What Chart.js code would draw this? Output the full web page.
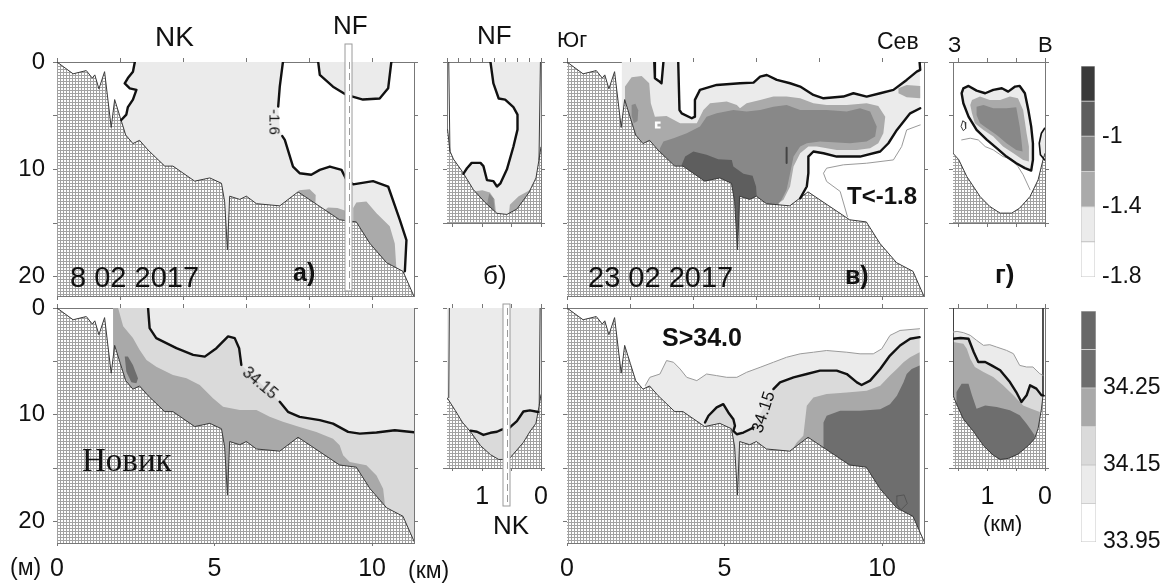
<!DOCTYPE html>
<html lang="ru">
<head>
<meta charset="utf-8">
<title>Разрезы температуры и солёности</title>
<script src="https://cdn.jsdelivr.net/npm/chart.js@4.4.1/dist/chart.umd.min.js"></script>
<style>
  html, body { margin: 0; padding: 0; background: #fff; }
  #page { position: relative; width: 1165px; height: 583px; overflow: hidden;
          font-family: "Liberation Sans", Arial, sans-serif; color: #111; }
  #plots canvas { position: absolute; }
  .lbl { position: absolute; white-space: nowrap; line-height: 1; z-index: 2; }
  .rot { position: absolute; white-space: nowrap; line-height: 1; z-index: 2; transform-origin: center; }
  .b { font-weight: bold; }
</style>
</head>
<body>
<div id="page">
  <div id="plots"></div>

  <div class="lbl" style="left:155px;top:23px;font-size:28px">NK</div>
  <div class="lbl" style="left:333px;top:12px;font-size:26px">NF</div>
  <div class="lbl" style="left:477px;top:22px;font-size:26px">NF</div>
  <div class="lbl" style="left:557px;top:29px;font-size:22px">Юг</div>
  <div class="lbl" style="left:877px;top:30px;font-size:23px">Сев</div>
  <div class="lbl" style="left:948px;top:34px;font-size:22px">З</div>
  <div class="lbl" style="left:1038px;top:34px;font-size:22px">В</div>

  <div class="lbl" style="left:70px;top:263px;font-size:29px">8 02 2017</div>
  <div class="lbl b" style="left:293px;top:260px;font-size:25px">а)</div>
  <div class="lbl" style="left:483px;top:262px;font-size:26px">б)</div>
  <div class="lbl" style="left:588px;top:263px;font-size:29px">23 02 2017</div>
  <div class="lbl b" style="left:845px;top:263px;font-size:25px">в)</div>
  <div class="lbl b" style="left:995px;top:261px;font-size:26px">г)</div>
  <div class="lbl b" style="left:847px;top:184px;font-size:24px">T&lt;-1.8</div>
  <div class="rot" style="left:275px;top:122px;font-size:15px;transform:translate(-50%,-50%) rotate(90deg)">-1.6</div>

  <div class="lbl" style="left:82px;top:444px;font-size:33px;font-family:'Liberation Serif','Times New Roman',serif">Новик</div>
  <div class="rot" style="left:260px;top:383px;font-size:16px;transform:translate(-50%,-50%) rotate(40deg)">34.15</div>
  <div class="lbl b" style="left:662px;top:325px;font-size:25px">S&gt;34.0</div>
  <div class="rot" style="left:763px;top:412px;font-size:17px;transform:translate(-50%,-50%) rotate(-72deg)">34.15</div>
  <div class="lbl" style="left:493px;top:512px;font-size:26px">NK</div>
  <div class="lbl" style="left:10px;top:556px;font-size:23px">(м)</div>
  <div class="lbl" style="left:408px;top:559px;font-size:23px">(км)</div>
  <div class="lbl" style="left:983px;top:513px;font-size:22px">(км)</div>
</div>

<script>
const FONT = '"Liberation Sans", Arial, sans-serif';

// ---------- data: [distance km, depth m] ----------
const DEPTH_T = 21.8, DEPTH_S = 22, DEPTH_CROSS = 15;
const SECTION_KM = 11.33, CROSS_KM = 1.6;

// temperature / salinity class colours (lowest class first)
const T_COLORS = ['#ffffff', '#ebebeb', '#aaaaaa', '#888888', '#5e5e5e', '#3a3a3a'];
const S_COLORS = ['#ffffff', '#ebebeb', '#dadada', '#a9a9a9', '#6e6e6e', '#686868'];
const T_BAR_LABELS = ['-1.8', '', '-1.4', '', '-1', '', ''];
const S_BAR_LABELS = ['33.95', '', '34.15', '', '34.25', '', ''];

const DEPTH_LABELS = [0, 10, 20];
const KM_LABELS = [0, 5, 10];
const CROSS_LABELS = [0, 1];

// bottom relief along the main section
const bottomMain = [[0,0],[0.51,1.1],[0.93,0.8],[1.12,1.5],[1.2,1.2],[1.33,2.5],[1.51,0.9],[1.72,6.1],[1.83,3.5],
  [2.01,5.2],[2.18,6.8],[2.41,7.6],[2.62,7.3],[2.89,8.2],[3.42,9.7],[3.68,9.7],[4.37,11.1],[4.85,10.8],[5.22,11.3],
  [5.32,13.0],[5.41,17.5],[5.48,12.5],[5.8,12.8],[6.01,12.5],[6.33,13.2],[7.07,13.4],[7.65,12.1],[8.97,14.7],
  [9.5,14.9],[9.93,16.9],[10.46,18.7],[10.98,19.5],[11.4,22.3]];

// a) 8 Feb, temperature
const aWarmLeft = [[2.47,0],[2.41,0.9],[2.25,1.5],[2.15,2.0],[2.31,2.45],[2.52,2.6],[2.41,3.5],[2.25,4.2],[2.2,4.9],[2.04,5.4]];
const aWarmRight = [[7.17,0],[7.07,2.3],[7.02,4.15],[7.07,6.3],[7.23,7.26],[7.49,9.74],[7.7,10.36],[8.07,10.5],[8.34,10.05],
  [8.66,9.74],[9.03,10.05],[9.19,11.0],[9.4,11.4],[10.03,11.1],[10.51,11.6],[10.88,14.7],[11.09,16.6],[11.04,19.5]];
const aWarmCap = [[8.29,0],[8.34,1.2],[8.76,2.3],[9.19,3.07],[9.71,3.5],[10.24,3.4],[10.51,2.45],[10.61,0]];
const aMid1 = [[7.65,12.1],[7.68,11.95],[8.02,11.85],[8.21,12.4],[8.2,13.4],[7.65,12.6]];
const aMid2 = [[8.5,13.8],[8.6,13.55],[8.9,13.6],[9.2,13.9],[9.2,15.2],[8.5,14.6]];
const aMid3 = [[9.4,13.6],[9.5,13.1],[9.82,13.0],[10.14,14.1],[10.56,15.3],[10.72,16.9],[10.77,19.2],[10.6,20.2],[9.4,16]];

// б) cross-section at NF, temperature
const bedCrossT = [[1.7,6.3],[1.59,6.3],[1.55,8.3],[1.49,9.05],[1.34,10.2],[1.15,11.9],[0.95,13.1],[0.75,14.1],[0.58,14.2],
  [0.41,13.7],[0.21,12.2],[0.085,10.8],[0.034,9.1],[0,7.9],[-0.1,7.9]];
const bWallsT = [[[1.57,0],[1.55,8.3]], [[0.01,0],[0.034,9.1]]];
const bIso = [[0.86,0],[0.81,2.0],[0.72,3.4],[0.61,3.5],[0.47,4.2],[0.40,4.9],[0.40,6.3],[0.47,7.9],[0.58,10.0],[0.69,11.3],
  [0.75,11.6],[0.81,11.1],[0.92,11.0],[0.98,9.7],[1.03,9.4],[1.18,9.4],[1.26,9.9],[1.32,10.4]];
const bMidL = [[1.16,12.1],[1.0,11.95],[0.87,12.15],[0.79,12.8],[0.76,14.4],[1.0,14.4]];
const bDarkL = [[0.88,12.25],[0.81,12.7],[0.78,14.3],[0.92,13.3]];
const bMidR = [[0.55,14.4],[0.53,13.3],[0.38,12.5],[0.24,12.1],[0.18,11.9],[0.12,12.5],[0.3,14.4]];

// в) 23 Feb, temperature
const vCover = [[1.74,0],[11.2,0],[11.2,25],[1.74,25]];
const vTopIso = [[3.53,0],[3.57,4.47],[3.64,4.78],[3.96,5.24],[4.06,5.09],[4.06,3.53],[4.22,2.6],[4.75,2.14],[5.49,1.98],
  [5.92,1.92],[6.13,1.36],[6.34,1.21],[6.66,1.67],[7.08,1.98],[7.4,2.29],[7.82,3.07],[8.14,3.38],[8.77,3.22],[9.09,2.91],
  [9.51,3.22],[9.94,2.91],[10.36,2.6],[10.78,1.67],[11.1,0.9],[11.21,0.74],[11.19,0]];
const vFinger = [[2.77,0],[2.79,1.52],[2.9,1.74],[3.0,1.98],[3.06,0]];
const vColdIso = [[11.21,4.31],[10.89,4.78],[10.47,6.33],[10.2,7.57],[9.94,8.34],[9.3,8.81],[8.56,8.81],[8.14,8.5],
  [7.82,8.34],[7.66,8.81],[7.66,10.36],[7.61,11.6],[7.4,12.7]];
const vFrostIso = [[11.21,5.86],[10.78,6.33],[10.62,7.88],[10.36,9.12],[9.51,9.43],[8.77,9.58],[8.24,9.89],[8.14,10.36],
  [8.24,11.13],[8.67,12.06],[8.9,14.4]];
const vMid = [[1.84,2.29],[2.05,1.43],[2.37,1.3],[2.61,1.98],[2.66,3.84],[2.79,5.09],[3.16,5.02],[3.59,5.71],[4.12,5.71],
  [4.33,4.47],[4.54,3.84],[5.07,3.69],[5.39,4.0],[5.49,4.31],[5.7,3.84],[6.13,3.53],[6.55,3.22],[6.97,3.22],[7.4,3.38],
  [7.82,3.84],[8.24,4.0],[8.88,4.0],[9.51,3.84],[9.88,4.1],[10.1,5.09],[10.04,6.64],[9.88,7.57],[9.62,8.03],[9.2,8.19],
  [8.56,8.2],[7.93,7.88],[7.66,7.88],[7.4,8.5],[7.19,9.74],[7.08,11.6],[6.87,12.84],[6.71,13.15],[6.71,25],[1.84,25]];
const vDark = [[2.95,8.03],[3.06,7.41],[3.38,7.1],[3.8,6.64],[4.22,6.02],[4.43,5.09],[4.75,4.78],[5.28,4.47],[5.7,4.62],
  [6.13,4.47],[6.55,4.16],[6.97,4.0],[7.4,4.47],[7.82,4.47],[8.24,4.47],[8.88,4.62],[9.3,4.31],[9.62,4.62],[9.83,6.02],
  [9.78,6.95],[9.51,7.41],[8.98,7.57],[8.03,7.41],[7.61,7.57],[7.4,7.88],[7.19,8.81],[7.08,10.36],[6.97,11.9],[6.81,12.84],
  [6.71,13.2],[6.71,25],[2.95,25]];
const vDarkest = [[3.64,9.58],[3.75,8.81],[4.01,8.34],[4.43,8.65],[4.8,9.05],[5.23,9.12],[5.28,9.74],[5.6,10.42],[5.89,10.6],
  [6.0,11.6],[6.02,12.47],[6.02,25],[3.64,25]];
const vDarkSpot = [[2.05,4.0],[2.17,3.9],[2.26,4.5],[2.24,5.5],[2.12,5.7],[2.05,5.0]];
const vNotch = [[2.79,5.55],[2.97,5.55],[2.97,5.75],[2.87,5.75],[2.87,6.0],[2.97,6.0],[2.97,6.2],[2.79,6.2]];
const vMidCap = [[10.52,2.45],[10.78,2.14],[11.21,2.23],[11.21,3.38],[10.78,3.29],[10.52,2.91]];
const vTick = [[6.97,8.0],[6.97,9.4]];

// г) cross-section, temperature
const bedCrossG = [[1.7,8.5],[1.6,8.5],[1.5,9.1],[1.36,10.67],[1.13,12.53],[0.96,13.46],[0.78,14.08],[0.58,14.08],
  [0.44,13.61],[0.26,12.53],[0.12,10.98],[0.035,9.12],[0,8.5],[-0.1,8.5]];
const gLoop = [[1.42,2.45],[1.33,2.23],[1.19,2.67],[1.04,2.91],[0.9,2.6],[0.75,2.45],[0.64,2.76],[0.52,2.29],[0.44,2.23],
  [0.35,2.91],[0.29,4.47],[0.24,6.02],[0.21,7.57],[0.21,9.12],[0.24,10.11],[0.35,9.89],[0.5,9.43],[0.67,8.81],[0.84,8.03],
  [1.01,7.26],[1.19,6.33],[1.33,5.09],[1.42,3.84],[1.45,2.91]];
const gMid = [[1.27,3.53],[1.13,3.22],[0.96,3.53],[0.78,3.53],[0.61,3.22],[0.47,3.38],[0.38,4.47],[0.32,6.64],[0.28,7.88],
  [0.28,9.27],[0.38,9.12],[0.55,8.5],[0.73,7.88],[0.9,6.95],[1.07,6.33],[1.22,5.71],[1.27,4.78],[1.3,4.0]];
const gDark = [[1.19,4.16],[1.07,4.0],[0.9,4.31],[0.67,4.31],[0.5,4.22],[0.44,6.02],[0.41,7.26],[0.39,8.34],[0.5,8.19],
  [0.67,7.57],[0.84,6.79],[1.01,6.17],[1.13,5.71],[1.19,4.93]];
const gEdge = [[0.006,6.17],[0.063,6.64],[0.1,7.57],[0.08,8.65],[0.006,9.12]];
const gSmallLoop = [[1.43,5.5],[1.39,5.6],[1.38,6.2],[1.42,6.4],[1.46,6.0]];
const gFrostIso = [[1.45,7.26],[1.3,7.1],[1.16,7.26],[1.04,7.88],[0.9,8.19],[0.73,8.81],[0.58,9.05],[0.47,9.74],[0.38,10.51],[0.26,11.9]];

// д) 8 Feb, salinity
const dCover = [[1.78,0],[11.4,0],[11.4,25],[1.78,25]];
const dIso = [[2.89,0],[2.94,1.88],[3.15,2.82],[3.79,3.76],[4.32,4.39],[4.69,4.55],[5.06,3.76],[5.43,2.66],[5.64,2.82],
  [5.78,3.76],[5.85,5.33],[7.07,8.78],[7.33,9.72],[7.7,10.19],[8.34,10.5],[8.76,10.82],[9.24,11.6],[9.61,11.76],
  [10.14,11.66],[10.72,11.44],[11.4,11.66]];
const dMid = [[1.94,0],[2.1,1.72],[2.41,2.82],[2.62,3.92],[2.84,4.86],[3.15,5.49],[3.68,6.27],[4.11,6.58],[4.53,7.21],
  [4.95,8.46],[5.27,9.25],[5.8,9.56],[6.33,9.56],[6.75,10.19],[7.17,10.66],[7.7,11.13],[8.23,11.6],[8.76,12.23],
  [8.97,12.85],[9.08,13.79],[9.29,14.42],[9.82,14.73],[10.14,15.67],[10.35,16.93],[10.4,18.18]];
const dCore = [[2.15,4.55],[2.25,4.55],[2.41,5.33],[2.57,6.58],[2.52,7.05],[2.36,6.96],[2.2,5.96]];

// е) cross-section at NK, salinity
const bedCrossS = [[1.7,8.4],[1.6,8.4],[1.46,9.6],[1.34,10.7],[1.20,11.6],[1.03,12.9],[0.86,13.75],[0.72,14.2],[0.55,14.2],
  [0.44,13.5],[0.30,12.6],[0.19,11.6],[0.085,10.8],[0.03,9.1],[0,8.1],[-0.1,8.1]];
const bWallsS = [[[1.56,0],[1.57,8.4]], [[0.015,0],[0.03,9.1]]];
const bSIso = [[1.20,11.5],[1.09,11.6],[0.98,11.9],[0.86,11.7],[0.75,11.6],[0.67,11.4],[0.53,11.2],[0.41,10.6],[0.30,9.7],
  [0.19,9.6],[0.045,9.75]];

// ж) 23 Feb, salinity
const vSLight = [[2.48,7.27],[2.63,6.49],[2.95,6.18],[3.16,4.92],[3.38,5.08],[3.59,5.71],[3.8,6.49],[4.12,6.8],[4.43,6.18],
  [4.75,6.33],[5.07,6.49],[5.39,6.49],[5.7,6.02],[6.13,5.55],[6.55,5.08],[6.97,4.61],[7.4,4.29],[7.82,4.14],[8.24,3.98],
  [8.88,4.14],[9.3,4.29],[9.72,4.29],[9.99,3.82],[10.25,2.57],[10.57,2.1],[11.19,1.94]];
const vSIso = [[4.38,10.72],[4.49,10.09],[4.75,9.31],[4.96,9.0],[5.12,9.78],[5.28,10.41],[5.33,11.03],[5.28,11.5],[5.39,11.82],
  [5.6,11.66],[5.81,11.35],[5.92,11.19],[6.55,7.59],[6.76,6.96],[7.19,6.49],[7.61,6.18],[8.03,5.86],[8.56,5.86],[8.88,6.18],
  [9.2,6.96],[9.35,7.21],[9.62,6.8],[9.94,5.71],[10.25,4.45],[10.57,3.51],[10.89,2.88],[11.19,2.73]];
const vSMid = [[7.19,13.07],[7.29,12.6],[7.5,11.97],[7.61,9.15],[7.82,8.37],[8.24,8.06],[8.88,7.9],[9.51,7.74],[9.94,7.27],
  [10.25,6.33],[10.47,5.71],[10.68,5.08],[10.89,4.61],[11.19,4.14]];
const vSDark = [[8.14,12.45],[8.14,10.72],[8.24,10.09],[8.67,9.62],[9.3,9.62],[9.94,9.47],[10.25,9.0],[10.47,8.21],[10.68,6.96],
  [10.78,6.18],[10.94,5.71],[11.19,5.39]];
const vSBlob = [[10.47,17.6],[10.7,17.5],[10.8,18.3],[10.6,18.9],[10.45,18.3]];

// з) cross-section, salinity
const bedCrossGS = [[1.7,8.2],[1.6,8.2],[1.53,9.1],[1.42,10.4],[1.24,11.6],[1.07,12.9],[0.90,13.8],[0.78,14.2],[0.64,14.1],
  [0.47,13.7],[0.29,12.9],[0.18,12.25],[0.12,11.3],[0.06,9.4],[0.035,8.2],[-0.1,8.2]];
const gWallsS = [[[1.6,0],[1.6,8.2]], [[0.035,0],[0.035,8.2]]];
const gSLight = [[1.6,2.25],[1.53,2.19],[1.42,2.31],[1.3,2.56],[1.19,3.03],[1.07,3.5],[0.96,3.44],[0.84,3.66],[0.67,3.97],
  [0.55,4.28],[0.44,5.38],[0.32,5.53],[0.21,5.53],[0.09,6.16],[0.035,6.31]];
const gSIso = [[1.6,2.88],[1.47,2.81],[1.33,2.88],[1.24,4.13],[1.16,5.06],[1.04,5.06],[0.93,5.38],[0.78,5.84],[0.61,6.94],
  [0.5,7.88],[0.41,8.81],[0.32,8.19],[0.26,7.25],[0.15,7.56],[0.06,8.19],[0.035,8.19]];
const gSMid = [[1.6,3.19],[1.42,3.34],[1.36,3.81],[1.3,4.75],[1.22,5.53],[1.07,6.0],[0.9,6.47],[0.73,7.25],[0.55,8.19],
  [0.38,9.13],[0.24,9.44],[0.09,9.75]];
const gSDark = [[1.54,7.88],[1.45,7.09],[1.33,7.09],[1.27,8.19],[1.19,9.44],[1.04,9.13],[0.84,9.28],[0.61,9.59],[0.44,10.06],
  [0.32,10.84],[0.24,11.47],[0.18,11.94]];

// station markers
const STATION_NF_KM = 9.23;
const STATION_NK_KM = 0.6;

// ---------- layout (page pixels) ----------
const LAYOUT = {
  tA: {box: [0, 0, 440, 300],    area: [57, 62, 414, 296]},
  tB: {box: [440, 0, 110, 300],  area: [447, 62, 541, 223]},
  tV: {box: [550, 0, 390, 300],  area: [567, 62, 924, 296]},
  tG: {box: [940, 0, 125, 300],  area: [953, 62, 1045, 223]},
  sA: {box: [0, 285, 440, 298],  area: [57, 308, 414, 543]},
  sB: {box: [440, 285, 110, 298], area: [447, 308, 541, 468]},
  sV: {box: [550, 285, 390, 298], area: [567, 308, 924, 543]},
  sG: {box: [940, 285, 125, 298], area: [953, 308, 1045, 468]},
  cT: {box: [1070, 46, 95, 250],  area: [1081, 66, 1095, 277]},
  cS: {box: [1070, 291, 95, 270], area: [1081, 311, 1096, 542]}
};

const ISO = '#111', ISO_W = 2.4, BED = '#3a3a3a', THIN = '#9a9a9a';

// ---------- helpers ----------
const bed = (profile, deep) => [...profile, [profile[profile.length - 1][0], deep], [profile[0][0], deep]];
const close = pts => [...pts, pts[0]];
const fillOf = (pts, color) => ({area: color, pts});
const lineOf = (pts, color, width) => ({line: color, width, pts});

const hatchCache = new WeakMap();
function hatchPattern(ctx) {
  if (!hatchCache.has(ctx)) {
    const c = document.createElement('canvas');
    c.width = 3; c.height = 3;
    const g = c.getContext('2d');
    g.fillStyle = '#ffffff'; g.fillRect(0, 0, 3, 3);
    g.fillStyle = '#a2a2a2'; g.fillRect(0, 0, 3, 1); g.fillRect(0, 0, 1, 3);
    hatchCache.set(ctx, ctx.createPattern(c, 'repeat'));
  }
  return hatchCache.get(ctx);
}

// fills closed polygons of a dataset through the chart's own scales
const areaPlugin = {
  id: 'areaFill',
  beforeDatasetDraw(chart, args) {
    const ds = chart.data.datasets[args.index];
    if (!ds.areaColor) return;
    const ctx = chart.ctx, a = chart.chartArea, sx = chart.scales.x, sy = chart.scales.y;
    ctx.save();
    ctx.beginPath();
    ctx.rect(a.left, a.top, a.right - a.left, a.bottom - a.top);
    ctx.clip();
    ctx.beginPath();
    ds.data.forEach((p, i) => {
      const px = sx.getPixelForValue(p.x), py = sy.getPixelForValue(p.y);
      if (i) ctx.lineTo(px, py); else ctx.moveTo(px, py);
    });
    ctx.closePath();
    ctx.fillStyle = ds.areaColor === 'hatch' ? hatchPattern(ctx) : ds.areaColor;
    ctx.fill();
    ctx.restore();
  }
};

// white station bar with dashed line
const stationPlugin = {
  id: 'station',
  afterDraw(chart, args, opts) {
    if (!opts || opts.km === undefined) return;
    const ctx = chart.ctx, a = chart.chartArea;
    const x = Math.round(chart.scales.x.getPixelForValue(opts.km)) + 0.5;
    const top = a.top - opts.above, bottom = a.bottom + opts.below;
    ctx.save();
    ctx.fillStyle = '#fff';
    ctx.strokeStyle = '#9a9a9a';
    ctx.lineWidth = 1;
    ctx.fillRect(x - 3.5, top, 7, bottom - top);
    ctx.strokeRect(x - 3.5, top, 7, bottom - top);
    ctx.setLineDash([7, 4]);
    ctx.beginPath();
    ctx.moveTo(x + 1, Math.max(top, a.top));
    ctx.lineTo(x + 1, bottom);
    ctx.stroke();
    ctx.restore();
  }
};

Chart.register(areaPlugin, stationPlugin);
Chart.defaults.font.family = FONT;

function makeCanvas(key) {
  const [x, y, w, h] = LAYOUT[key].box;
  const cv = document.createElement('canvas');
  cv.width = w; cv.height = h;
  cv.style.cssText = `left:${x}px;top:${y}px;width:${w}px;height:${h}px`;
  document.getElementById('plots').appendChild(cv);
  return cv;
}

function fixed(size, horizontal) {
  return function (scale) {
    if (horizontal) scale.height = size; else scale.width = size;
    scale.paddingLeft = scale.paddingRight = scale.paddingTop = scale.paddingBottom = 0;
  };
}

function axis(o) {
  const horizontal = o.position === 'top' || o.position === 'bottom';
  return {
    type: 'linear', position: o.position, min: o.min, max: o.max, reverse: !!o.reverse,
    ticks: {
      stepSize: o.step, includeBounds: false, autoSkip: false, maxRotation: 0, minRotation: 0,
      padding: o.pad || 0, color: '#111',
      font: {family: FONT, size: o.labels ? o.fontSize : 1},
      callback: v => (o.labels && o.labels.some(t => Math.abs(t - v) < 1e-6)) ? String(v) : ''
    },
    grid: {drawOnChartArea: false, drawTicks: true, tickLength: o.tick, tickColor: '#777', color: '#777'},
    border: {display: true, color: '#777', width: 1},
    afterFit: fixed(o.size, horizontal)
  };
}

function toDataset(l, i) {
  return {
    data: l.pts.map(([x, y]) => ({x, y})),
    areaColor: l.area || null,
    showLine: !!l.line,
    borderColor: l.line || 'rgba(0,0,0,0)',
    borderWidth: l.line ? l.width : 0,
    borderJoinStyle: 'round',
    borderCapStyle: 'round',
    pointRadius: 0, pointHoverRadius: 0, pointHitRadius: 0,
    tension: 0,
    order: -i
  };
}

function drawPanel(key, p) {
  const cv = makeCanvas(key);
  const [bx, by, bw, bh] = LAYOUT[key].box;
  const [x0, y0, x1, y1] = LAYOUT[key].area;
  const L = x0 - bx, T = y0 - by, R = bx + bw - x1, B = by + bh - y1;
  const xr = {min: 0, max: p.xMax, reverse: !!p.reverseX};
  const yr = {min: 0, max: p.yMax, reverse: true};
  return new Chart(cv, {
    type: 'scatter',
    data: {datasets: p.layers.map(toDataset)},
    options: {
      responsive: false, animation: false, devicePixelRatio: 1, events: [],
      layout: {padding: 0, autoPadding: false},
      plugins: {legend: {display: false}, tooltip: {enabled: false}, station: p.station || {}},
      scales: {
        x: axis({...xr, position: 'bottom', step: p.xStepBottom, labels: p.xLabels, size: B, tick: p.xLabels ? 3 : 4, pad: p.xPad, fontSize: 25}),
        x2: axis({...xr, position: 'top', step: p.xStepTop, size: T, tick: 4}),
        y: axis({...yr, position: 'left', step: 5, labels: p.yLabels, size: L, tick: 4, pad: 8, fontSize: 24}),
        y2: axis({...yr, position: 'right', step: 5, size: R, tick: 4})
      }
    }
  });
}

function drawColorbar(key, colors, labels) {
  const cv = makeCanvas(key);
  const [bx, by, bw, bh] = LAYOUT[key].box;
  const [x0, y0, x1, y1] = LAYOUT[key].area;
  return new Chart(cv, {
    type: 'bar',
    data: {
      labels: [''],
      datasets: colors.map(c => ({
        data: [1], backgroundColor: c, borderColor: '#c4c4c4', borderWidth: 0.8, borderSkipped: false,
        barPercentage: 1, categoryPercentage: 1
      }))
    },
    options: {
      responsive: false, animation: false, devicePixelRatio: 1, events: [],
      layout: {padding: {left: x0 - bx, top: y0 - by, bottom: by + bh - y1, right: 0}, autoPadding: false},
      plugins: {legend: {display: false}, tooltip: {enabled: false}},
      scales: {
        x: {stacked: true, display: false},
        y: {
          stacked: true, position: 'right', min: 0, max: colors.length,
          ticks: {stepSize: 1, padding: 7, color: '#111', font: {family: FONT, size: 23},
                  callback: v => labels[v] || ''},
          grid: {display: false, drawTicks: false},
          border: {display: false},
          afterFit: fixed(bx + bw - x1, false)
        }
      }
    }
  });
}

// ---------- panels ----------
drawPanel('tA', {
  xMax: SECTION_KM, yMax: DEPTH_T, xStepTop: 2, xStepBottom: 2, yLabels: DEPTH_LABELS,
  station: {km: STATION_NF_KM, above: 18, below: -5},
  layers: [
    fillOf([...aWarmLeft, [2.04, 25], [10.98, 25], ...aWarmRight.slice().reverse()], T_COLORS[1]),
    fillOf(aWarmCap, T_COLORS[1]),
    fillOf(aMid1, T_COLORS[2]), fillOf(aMid2, T_COLORS[2]), fillOf(aMid3, T_COLORS[2]),
    fillOf(bed(bottomMain, 25), 'hatch'),
    lineOf(bottomMain, BED, 1),
    lineOf(aWarmLeft, ISO, ISO_W),
    lineOf(aWarmRight.slice(0, 3), ISO, ISO_W),
    lineOf([[7.15, 6.9], ...aWarmRight.slice(4)], ISO, ISO_W),
    lineOf(aWarmCap, ISO, ISO_W)
  ]
});

drawPanel('tB', {
  xMax: CROSS_KM, reverseX: true, yMax: DEPTH_CROSS, xStepTop: 0.2, xStepBottom: 0.5,
  layers: [
    fillOf([...bIso, [1.32, 16], [-0.1, 16], [-0.1, 0]], T_COLORS[1]),
    fillOf(bMidL, T_COLORS[2]), fillOf(bDarkL, T_COLORS[3]), fillOf(bMidR, T_COLORS[2]),
    fillOf(bed(bedCrossT, 16), 'hatch'),
    lineOf(bedCrossT, BED, 1),
    lineOf(bWallsT[0], BED, 1), lineOf(bWallsT[1], BED, 1),
    lineOf(bIso, ISO, ISO_W)
  ]
});

drawPanel('tV', {
  xMax: SECTION_KM, yMax: DEPTH_T, xStepTop: 2, xStepBottom: 2,
  layers: [
    fillOf(vCover, T_COLORS[1]),
    fillOf(vTopIso, T_COLORS[0]),
    fillOf(vFinger, T_COLORS[0]),
    fillOf([...vColdIso, [7.4, 25], [11.4, 25], [11.4, 4.31]], T_COLORS[0]),
    fillOf(vMid, T_COLORS[2]),
    fillOf(vMidCap, T_COLORS[2]),
    fillOf(vDark, T_COLORS[3]),
    fillOf(vDarkSpot, T_COLORS[3]),
    fillOf(vDarkest, T_COLORS[4]),
    fillOf(vNotch, T_COLORS[0]),
    fillOf(bed(bottomMain, 25), 'hatch'),
    lineOf(bottomMain, BED, 1),
    lineOf(vFrostIso, THIN, 1),
    lineOf(vTopIso, ISO, ISO_W),
    lineOf(vFinger, ISO, ISO_W),
    lineOf(vColdIso, ISO, ISO_W),
    lineOf(vTick, '#444', 2)
  ]
});

drawPanel('tG', {
  xMax: CROSS_KM, reverseX: true, yMax: DEPTH_CROSS, xStepTop: 0.5, xStepBottom: 0.5,
  layers: [
    fillOf(gLoop, T_COLORS[1]),
    fillOf(gMid, T_COLORS[2]),
    fillOf(gDark, T_COLORS[3]),
    fillOf([...gEdge, [-0.1, 9.12], [-0.1, 6.17]], T_COLORS[1]),
    fillOf(bed(bedCrossG, 16), 'hatch'),
    lineOf(bedCrossG, BED, 1),
    lineOf(gFrostIso, THIN, 1),
    lineOf(close(gSmallLoop), BED, 1),
    lineOf(close(gLoop), ISO, ISO_W),
    lineOf(gEdge, ISO, 1.6)
  ]
});

drawPanel('sA', {
  xMax: SECTION_KM, yMax: DEPTH_S, xStepTop: 2, xStepBottom: 5, xLabels: KM_LABELS, xPad: 8, yLabels: DEPTH_LABELS,
  layers: [
    fillOf(dCover, S_COLORS[1]),
    fillOf([[1.78, 0], ...dIso, [11.4, 25], [1.78, 25]], S_COLORS[2]),
    fillOf([[1.78, 0], ...dMid, [10.4, 25], [1.78, 25]], S_COLORS[3]),
    fillOf(dCore, S_COLORS[4]),
    fillOf(bed(bottomMain, 25), 'hatch'),
    lineOf(bottomMain, BED, 1),
    lineOf(dIso.slice(0, 11), ISO, ISO_W),
    lineOf(dIso.slice(11), ISO, ISO_W)
  ]
});

drawPanel('sB', {
  xMax: CROSS_KM, reverseX: true, yMax: DEPTH_CROSS, xStepTop: 0.5, xStepBottom: 0.5, xLabels: CROSS_LABELS, xPad: 11,
  station: {km: STATION_NK_KM, above: 4, below: 38},
  layers: [
    fillOf([[1.7, 0], [-0.1, 0], [-0.1, 16], [1.7, 16]], S_COLORS[1]),
    fillOf([...bSIso, [-0.1, 9.75], [-0.1, 16], [1.2, 16]], S_COLORS[2]),
    fillOf(bed(bedCrossS, 16), 'hatch'),
    lineOf(bedCrossS, BED, 1),
    lineOf(bWallsS[0], BED, 1), lineOf(bWallsS[1], BED, 1),
    lineOf(bSIso, ISO, ISO_W)
  ]
});

drawPanel('sV', {
  xMax: SECTION_KM, yMax: DEPTH_S, xStepTop: 2, xStepBottom: 5, xLabels: KM_LABELS, xPad: 8,
  layers: [
    fillOf([[2.45, 8], ...vSLight, [11.19, 25], [2.45, 25]], S_COLORS[1]),
    fillOf([...vSIso, [11.19, 25], [4.38, 25]], S_COLORS[2]),
    fillOf([...vSMid, [11.19, 25], [7.19, 25]], S_COLORS[3]),
    fillOf([...vSDark, [11.19, 25], [8.14, 25]], S_COLORS[4]),
    fillOf(bed(bottomMain, 25), 'hatch'),
    lineOf(bottomMain, BED, 1),
    lineOf(vSLight, THIN, 1),
    lineOf(vSIso.slice(0, 12), ISO, ISO_W),
    lineOf(vSIso.slice(12), ISO, ISO_W),
    lineOf(close(vSBlob), '#555', 1)
  ]
});

drawPanel('sG', {
  xMax: CROSS_KM, reverseX: true, yMax: DEPTH_CROSS, xStepTop: 0.5, xStepBottom: 0.5, xLabels: CROSS_LABELS, xPad: 11,
  layers: [
    fillOf([...gSLight, [0.035, 16], [1.6, 16]], S_COLORS[1]),
    fillOf([...gSIso, [0.035, 16], [1.6, 16]], S_COLORS[2]),
    fillOf([...gSMid, [0.09, 16], [1.6, 16]], S_COLORS[3]),
    fillOf([...gSDark, [0.18, 16], [1.54, 16]], S_COLORS[4]),
    fillOf(bed(bedCrossGS, 16), 'hatch'),
    lineOf(bedCrossGS, BED, 1),
    lineOf(gWallsS[0], BED, 1), lineOf(gWallsS[1], BED, 1),
    lineOf(gSLight, THIN, 1),
    lineOf(gSIso, ISO, ISO_W)
  ]
});

drawColorbar('cT', T_COLORS, T_BAR_LABELS);
drawColorbar('cS', S_COLORS, S_BAR_LABELS);
</script>
</body>
</html>
